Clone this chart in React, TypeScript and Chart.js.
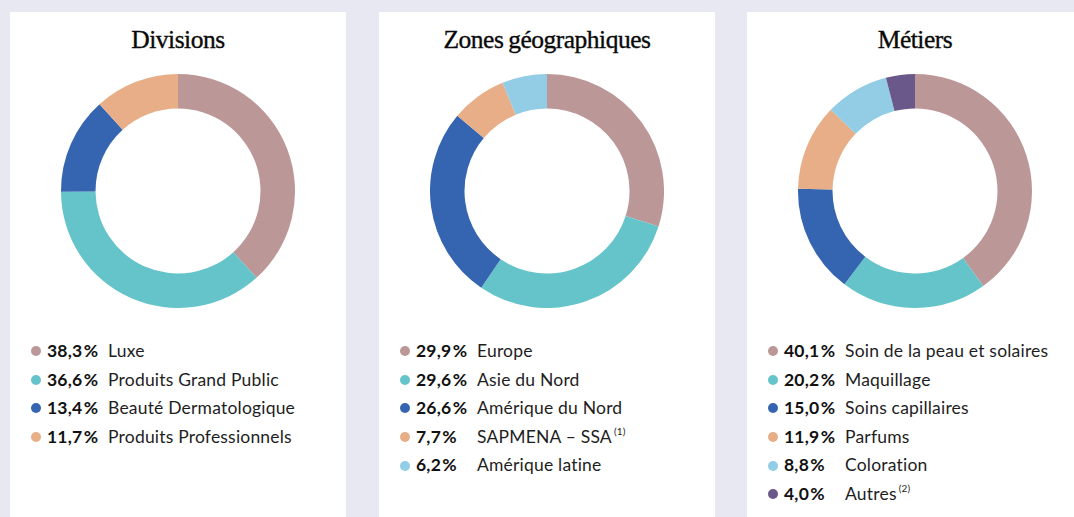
import React, { useEffect, useRef } from "react";
import { Chart, registerables } from "chart.js";

Chart.register(...registerables);

const COLORS = ["#bb9897", "#65c4c9", "#3565b1", "#e8ae88", "#92cce5", "#6b588a"];

const divisionsTitle = "Divisions";
const divisionsLabels = ["Luxe", "Produits Grand Public", "Beauté Dermatologique", "Produits Professionnels"];
const divisionsValues = [38.3, 36.6, 13.4, 11.7];
const divisionsNotes = ["", "", "", ""];

const zonesTitle = "Zones géographiques";
const zonesLabels = ["Europe", "Asie du Nord", "Amérique du Nord", "SAPMENA – SSA", "Amérique latine"];
const zonesValues = [29.9, 29.6, 26.6, 7.7, 6.2];
const zonesNotes = ["", "", "", "(1)", ""];

const metiersTitle = "Métiers";
const metiersLabels = ["Soin de la peau et solaires", "Maquillage", "Soins capillaires", "Parfums", "Coloration", "Autres"];
const metiersValues = [40.1, 20.2, 15.0, 11.9, 8.8, 4.0];
const metiersNotes = ["", "", "", "", "", "(2)"];

const fmt = (v: number) => v.toFixed(1).replace(".", ",") + "\u200A%";

const SANS = "Lato, 'Noto Sans', sans-serif";

function Donut({ labels, values }: { labels: string[]; values: number[] }) {
  const ref = useRef<HTMLCanvasElement | null>(null);
  useEffect(() => {
    if (!ref.current) return;
    const chart = new Chart(ref.current, {
      type: "doughnut",
      data: {
        labels,
        datasets: [
          {
            data: values,
            backgroundColor: COLORS.slice(0, values.length),
            borderWidth: 0,
          },
        ],
      },
      options: {
        responsive: false,
        animation: false,
        cutout: "70.5%",
        layout: { padding: 0 },
        plugins: { legend: { display: false }, tooltip: { enabled: false } },
      },
    });
    return () => chart.destroy();
  }, []);
  return (
    <canvas
      ref={ref}
      width={234}
      height={234}
      style={{ position: "absolute", left: 51, top: 62, width: 234, height: 234 }}
    />
  );
}

function Panel({
  left,
  title,
  labels,
  values,
  notes,
}: {
  left: number;
  title: string;
  labels: string[];
  values: number[];
  notes: string[];
}) {
  return (
    <div
      style={{
        position: "absolute",
        left,
        top: 12,
        width: 336,
        height: 520,
        background: "#ffffff",
      }}
    >
      <div
        style={{
          position: "absolute",
          left: 0,
          width: 336,
          top: 13,
          textAlign: "center",
          fontFamily: "'Liberation Serif', 'DejaVu Serif', serif",
          fontSize: 25.5,
          letterSpacing: -0.5,
          wordSpacing: -1,
          lineHeight: "30px",
          color: "#0a0a0a",
          WebkitTextStroke: "0.35px #0a0a0a",
        }}
      >
        {title}
      </div>
      <Donut labels={labels} values={values} />
      <div style={{ position: "absolute", left: 0, top: 325, width: 336 }}>
        {labels.map((lab, i) => (
          <div
            key={lab}
            style={{
              position: "relative",
              height: 28.6,
              lineHeight: "28.6px",
              fontFamily: SANS,
              fontSize: 17.5,
              letterSpacing: 0.2,
              color: "#1e1e1e",
              whiteSpace: "nowrap",
            }}
          >
            <span
              style={{
                position: "absolute",
                left: 21,
                top: 9.3,
                width: 10,
                height: 10,
                borderRadius: 5,
                background: COLORS[i],
              }}
            />
            <span style={{ position: "absolute", left: 37, fontWeight: 700, color: "#111" }}>
              {fmt(values[i])}
            </span>
            <span style={{ position: "absolute", left: 98 }}>
              {lab}
              {notes[i] ? (
                <sup style={{ fontSize: 10, lineHeight: 0, marginLeft: 2, position: "relative", top: -1 }}>
                  {notes[i]}
                </sup>
              ) : null}
            </span>
          </div>
        ))}
      </div>
    </div>
  );
}

export default function App() {
  return (
    <div
      style={{
        position: "fixed",
        left: 0,
        top: 0,
        width: 1074,
        height: 517,
        overflow: "hidden",
        background: "#e8e8f3",
      }}
    >
      <Panel left={10} title={divisionsTitle} labels={divisionsLabels} values={divisionsValues} notes={divisionsNotes} />
      <Panel left={379} title={zonesTitle} labels={zonesLabels} values={zonesValues} notes={zonesNotes} />
      <Panel left={747} title={metiersTitle} labels={metiersLabels} values={metiersValues} notes={metiersNotes} />
    </div>
  );
}
